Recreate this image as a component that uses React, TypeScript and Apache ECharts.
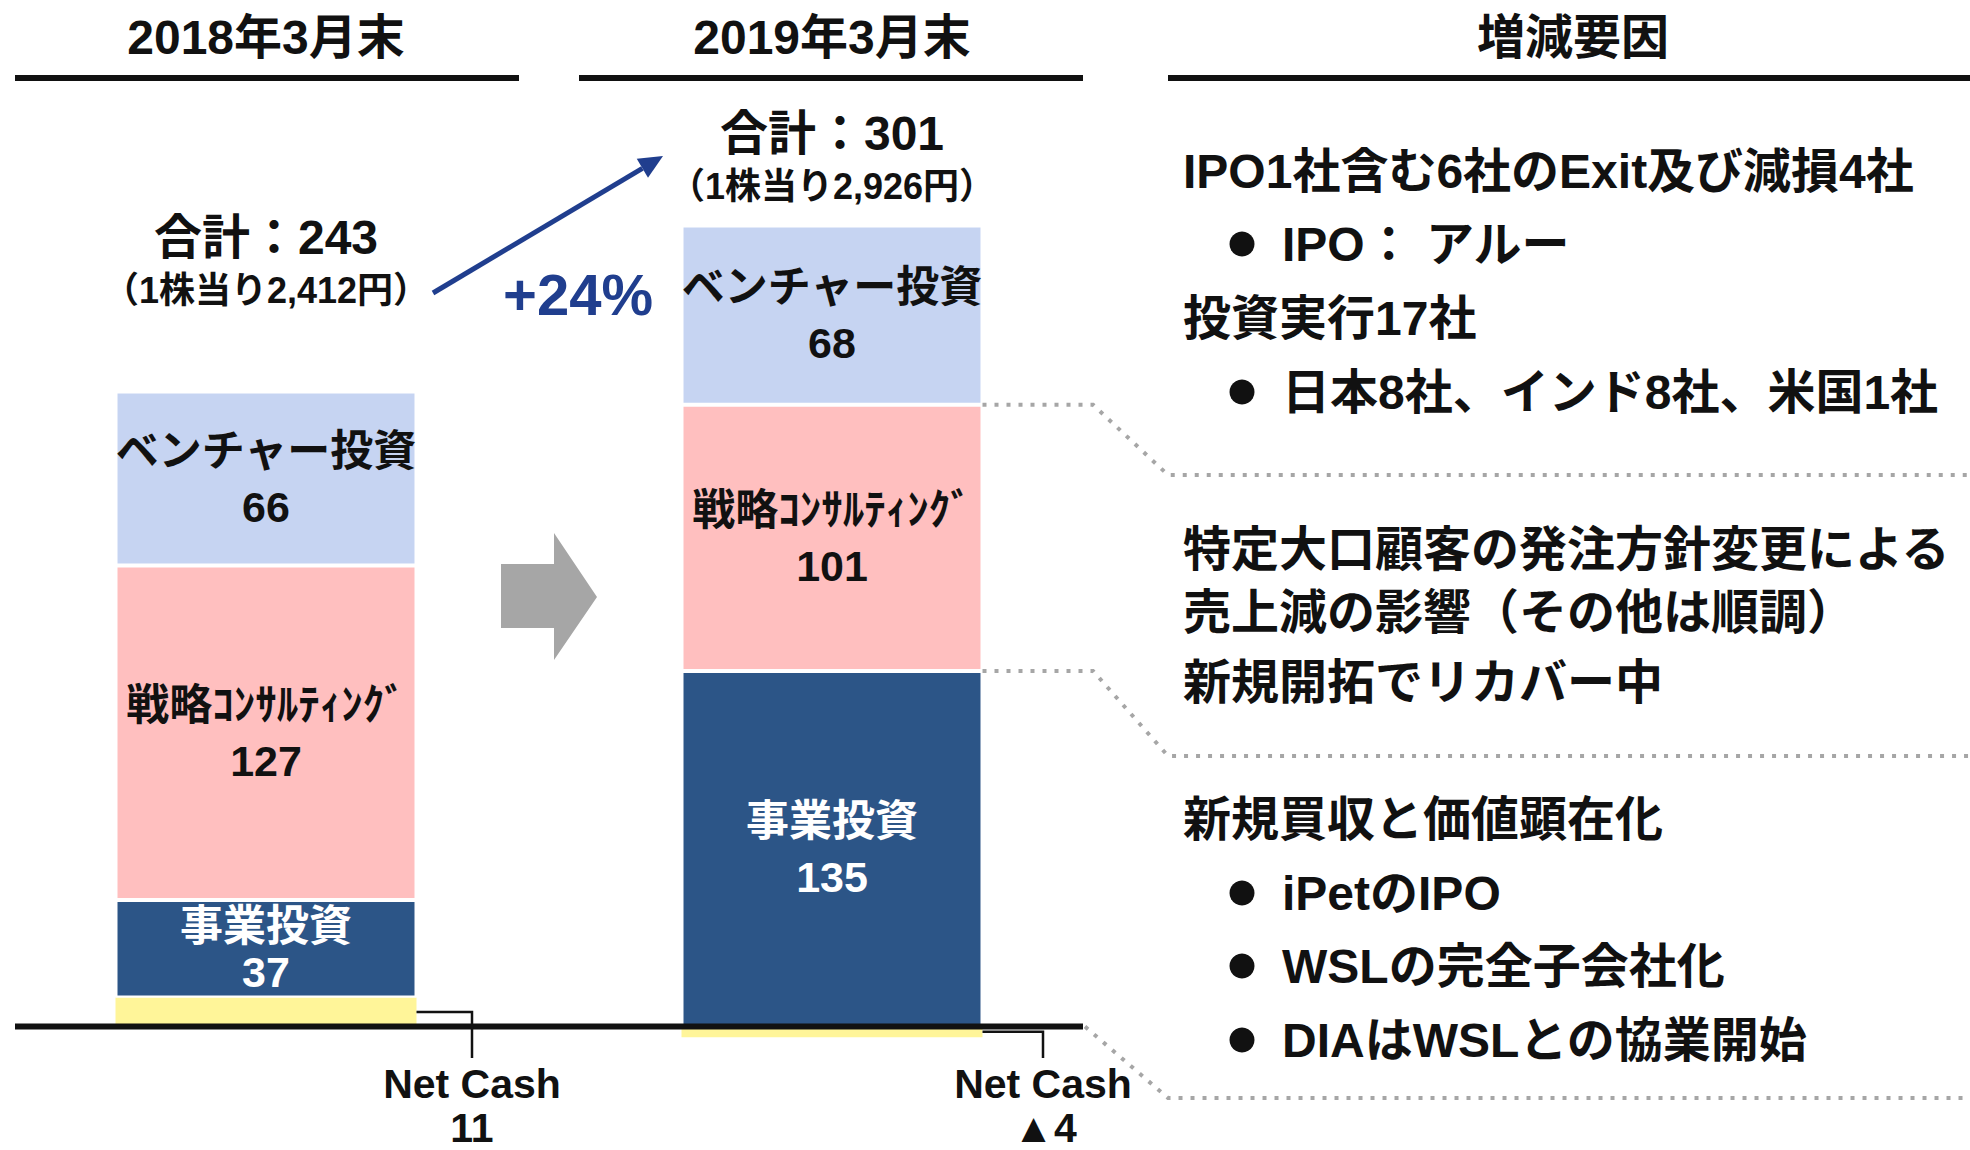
import React, { useEffect, useRef } from 'react';
import * as echarts from 'echarts';

// ---------- data ----------
const categories = ['2018年3月末', '2019年3月末'];
const businessInvest = [37, 135];
const strategyConsulting = [127, 101];
const ventureInvest = [66, 68];
const netCash = [11, -4];
const totals = [243, 301];
const perShare = ['2,412', '2,926'];
const growthLabel = '+24%';
const segmentNames = ['事業投資', '戦略ｺﾝｻﾙﾃｨﾝｸﾞ', 'ベンチャー投資'];
const netCashName = 'Net Cash';
const factorHeader = '増減要因';
const factorTexts = [
  'IPO1社含む6社のExit及び減損4社',
  'IPO： アルー',
  '投資実行17社',
  '日本8社、インド8社、米国1社',
  '特定大口顧客の発注方針変更による',
  '売上減の影響（その他は順調）',
  '新規開拓でリカバー中',
  '新規買収と価値顕在化',
  'iPetのIPO',
  'WSLの完全子会社化',
  'DIAはWSLとの協業開始',
];
const factorBullets = [false, true, false, true, false, false, false, false, true, true, true];

// ---------- layout / style ----------
const FONT = "'Liberation Sans', 'Noto Sans CJK JP', sans-serif";
const factorY = [171, 244, 318, 392, 549, 612, 682, 819, 893, 966, 1040];
const BAR_W = 301;
const COLORS = { net: '#FFF599', biz: '#2C5587', con: '#FFBFBF', ven: '#C6D4F2' };

function richLabel(name: string, color: string, lineHeight: number) {
  const st = { fontSize: 43, fontWeight: 'bold', fontFamily: FONT, color, lineHeight, textBorderWidth: 0 };
  return {
    show: true,
    position: 'inside',
    formatter: (p: any) => `{n|${name}}\n{v|${p.value}}`,
    color,
    textBorderWidth: 0,
    rich: { n: st, v: { ...st } },
  };
}

function barSeries(name: string, values: number[], color: string, label: any, border: number, itemLabels?: any[]) {
  return {
    type: 'bar',
    name,
    stack: 'total',
    barWidth: BAR_W,
    clip: false,
    data: values.map((v, i) => {
      const item: any = { value: v };
      if (itemLabels && itemLabels[i]) item.label = itemLabels[i];
      return item;
    }),
    itemStyle: { color, borderColor: '#ffffff', borderWidth: border },
    label,
    emphasis: { disabled: true },
  };
}

export default function App() {
  const ref = useRef<HTMLDivElement>(null);
  useEffect(() => {
    if (!ref.current) return;
    const chart = echarts.init(ref.current, null, { renderer: 'svg' });
    chart.setOption({
      animation: false,
      backgroundColor: '#ffffff',
      grid: { left: 266, width: 566, top: 78, height: 1054 },
      xAxis: {
        type: 'category',
        data: categories,
        boundaryGap: false,
        position: 'top',
        axisLine: { show: false, onZero: false },
        axisTick: { show: false },
        splitLine: { show: false },
        axisLabel: {
          margin: 41,
          verticalAlign: 'middle',
          fontSize: 48,
          fontWeight: 'bold',
          fontFamily: FONT,
          color: '#111111',
        },
      },
      yAxis: { type: 'value', min: -40, max: 360, show: false },
      series: [
        barSeries(netCashName, netCash, COLORS.net, { show: false }, 0),
        barSeries(
          segmentNames[0],
          businessInvest,
          COLORS.biz,
          richLabel(segmentNames[0], '#ffffff', 56),
          2,
          [richLabel(segmentNames[0], '#ffffff', 46), null]
        ),
        barSeries(segmentNames[1], strategyConsulting, COLORS.con, richLabel(segmentNames[1], '#111111', 56), 2),
        barSeries(segmentNames[2], ventureInvest, COLORS.ven, richLabel(segmentNames[2], '#111111', 56), 2),
      ],
    });

    const px = (i: number, v: number) => chart.convertToPixel({ gridIndex: 0 }, [i, v]) as number[];
    const y0 = px(0, 0)[1];
    const cx = [px(0, 0)[0], px(1, 0)[0]];
    const half = BAR_W / 2;

    const txt = (text: string, x: number, y: number, size: number, fill = '#111111', align = 'center') => ({
      type: 'text',
      z: 100,
      x,
      y,
      style: {
        text,
        fontSize: size,
        fontWeight: 'bold',
        fontFamily: FONT,
        fill,
        align,
        verticalAlign: 'middle',
        lineHeight: size,
      },
    });
    const rect = (x1: number, x2: number, y: number, h: number) => ({
      type: 'rect',
      z: 100,
      shape: { x: x1, y: y - h / 2, width: x2 - x1, height: h },
      style: { fill: '#111111' },
    });
    const dotted = (points: number[][]) => ({
      type: 'polyline',
      z: 100,
      shape: { points },
      style: { stroke: '#A6A6A6', lineWidth: 4, lineDash: [4, 8], fill: null },
    });
    const leader = (points: number[][]) => ({
      type: 'polyline',
      z: 100,
      shape: { points },
      style: { stroke: '#111111', lineWidth: 2.5, fill: null },
    });

    const fmtNet = (v: number) => (v < 0 ? `▲${Math.abs(v)}` : `${v}`);

    // blue arrow geometry
    const a0 = [433, 293];
    const a1 = [663, 156];
    const dx = a1[0] - a0[0];
    const dy = a1[1] - a0[1];
    const len = Math.hypot(dx, dy);
    const ux = dx / len;
    const uy = dy / len;
    const headL = 24;
    const headW = 11;
    const bx = a1[0] - ux * headL;
    const by = a1[1] - uy * headL;
    const nx = -uy;
    const ny = ux;

    const yVenBoundary = px(1, businessInvest[1] + strategyConsulting[1])[1];
    const yConBoundary = px(1, businessInvest[1])[1];
    const yNet = [px(0, netCash[0] / 2)[1], px(1, netCash[1] / 2)[1]];
    const netX = [472, 1043];

    const elements: any[] = [
      // header underlines + right header
      txt(factorHeader, 1573, 37, 48),
      rect(15, 519, 78, 6),
      rect(579, 1083, 78, 6),
      rect(1168, 1970, 78, 6),
      // baseline (zero line)
      rect(15, 1083, y0, 6),
      // totals
      txt(`合計：${totals[0]}`, cx[0], 237, 48),
      txt(`（1株当り${perShare[0]}円）`, cx[0], 290, 36),
      txt(`合計：${totals[1]}`, cx[1], 133, 48),
      txt(`（1株当り${perShare[1]}円）`, cx[1], 186, 36),
      // blue growth arrow
      {
        type: 'line',
        z: 100,
        shape: { x1: a0[0], y1: a0[1], x2: bx, y2: by },
        style: { stroke: '#203E8E', lineWidth: 5 },
      },
      {
        type: 'polygon',
        z: 100,
        shape: {
          points: [
            [a1[0], a1[1]],
            [bx + nx * headW, by + ny * headW],
            [bx - nx * headW, by - ny * headW],
          ],
        },
        style: { fill: '#203E8E' },
      },
      txt(growthLabel, 578, 294, 58, '#203E8E'),
      // grey block arrow
      {
        type: 'polygon',
        z: 100,
        shape: {
          points: [
            [501, 564],
            [554, 564],
            [554, 533],
            [597, 597],
            [554, 660],
            [554, 628],
            [501, 628],
          ],
        },
        style: { fill: '#A6A6A6' },
      },
      // dotted connectors
      dotted([[cx[1] + half, yVenBoundary], [1093, yVenBoundary], [1168, 475], [1970, 475]]),
      dotted([[cx[1] + half, yConBoundary], [1093, yConBoundary], [1168, 756], [1970, 756]]),
      dotted([[1085, y0], [1168, 1098], [1970, 1098]]),
    ];

    netCash.forEach((v, i) => {
      elements.push(leader([[cx[i] + half, yNet[i]], [netX[i], yNet[i]], [netX[i], 1058]]));
      elements.push(txt(netCashName, netX[i], 1084, 41));
      elements.push(txt(fmtNet(v), netX[i] + (v < 0 ? 2 : 0), 1128, 41));
    });

    factorTexts.forEach((t, i) => {
      const y = factorY[i];
      if (factorBullets[i]) {
        elements.push({
          type: 'circle',
          z: 100,
          shape: { cx: 1242, cy: y, r: 12.5 },
          style: { fill: '#111111' },
        });
        elements.push(txt(t, 1282, y, 48, '#111111', 'left'));
      } else {
        elements.push(txt(t, 1183, y, 48, '#111111', 'left'));
      }
    });

    chart.setOption({ graphic: { elements } });

    return () => chart.dispose();
  }, []);

  return (
    <div
      ref={ref}
      style={{ position: 'fixed', left: 0, top: 0, width: 1970, height: 1150, background: '#fff' }}
    />
  );
}
